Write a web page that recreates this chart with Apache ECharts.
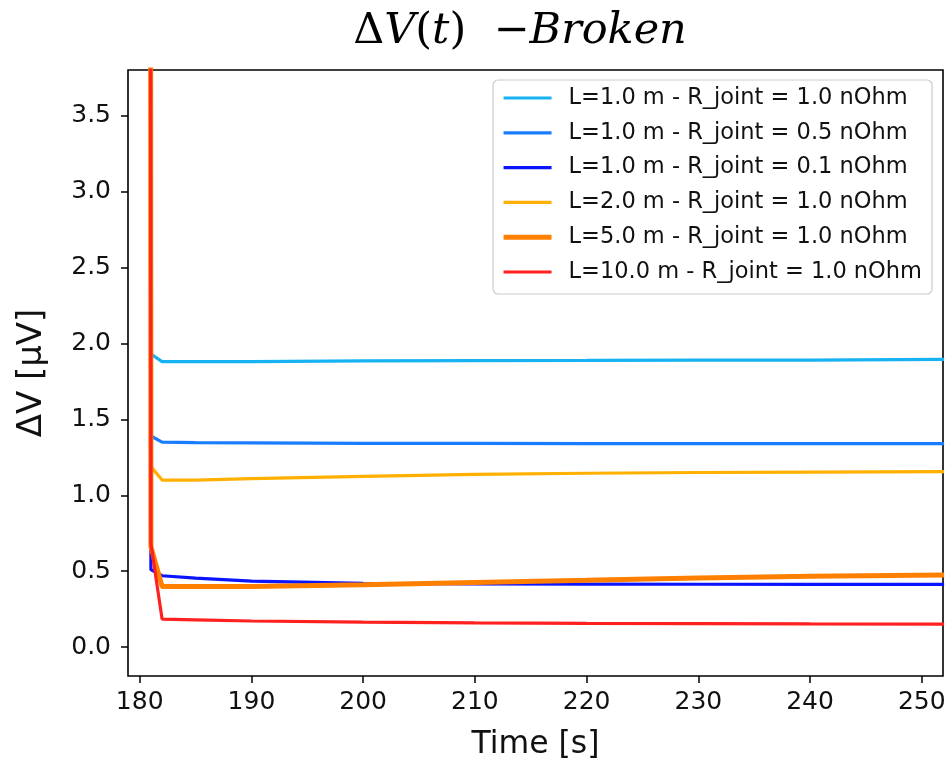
<!DOCTYPE html>
<html>
<head>
<meta charset="utf-8">
<script src="https://cdn.jsdelivr.net/npm/echarts@6/dist/echarts.min.js"></script>
<style>
html,body{margin:0;padding:0;background:#fff;}
#chart{width:947px;height:759px;}
</style>
</head>
<body>
<div id="chart"></div>
<script>
// ---- data ----
const times = [180.6, 181, 182, 185, 190, 200, 210, 220, 230, 240, 252];
const seriesNames = [
  'L=1.0 m - R_joint = 1.0 nOhm',
  'L=1.0 m - R_joint = 0.5 nOhm',
  'L=1.0 m - R_joint = 0.1 nOhm',
  'L=2.0 m - R_joint = 1.0 nOhm',
  'L=5.0 m - R_joint = 1.0 nOhm',
  'L=10.0 m - R_joint = 1.0 nOhm'
];
const v_L1_R10  = [60, 1.93, 1.88, 1.88, 1.88, 1.885, 1.887, 1.888, 1.89, 1.89, 1.895];
const v_L1_R05  = [60, 1.39, 1.35, 1.347, 1.345, 1.342, 1.341, 1.34, 1.34, 1.34, 1.34];
const v_L1_R01  = [60, 0.51, 0.47, 0.455, 0.435, 0.42, 0.417, 0.415, 0.414, 0.413, 0.413];
const v_L2_R10  = [60, 1.19, 1.10, 1.10, 1.11, 1.125, 1.137, 1.145, 1.15, 1.153, 1.155];
const v_L5_R10  = [60, 0.66, 0.40, 0.40, 0.40, 0.41, 0.425, 0.44, 0.456, 0.466, 0.475];
const v_L10_R10 = [60, 0.68, 0.185, 0.18, 0.172, 0.165, 0.16, 0.157, 0.155, 0.153, 0.152];
const xTicks = [180, 190, 200, 210, 220, 230, 240, 250];
const yTicks = [0, 0.5, 1, 1.5, 2, 2.5, 3, 3.5];

// ---- styling ----
const allValues = [v_L1_R10, v_L1_R05, v_L1_R01, v_L2_R10, v_L5_R10, v_L10_R10];
const colors = ['#17b2f2', '#1a7dff', '#0a14ff', '#ffb000', '#ff8000', '#ff2020'];
const widths = [3.2, 3.2, 3.2, 3.2, 5, 3.2];

const series = allValues.map((vals, i) => ({
  name: seriesNames[i],
  type: 'line',
  symbol: 'none',
  clip: true,
  data: vals.map((v, j) => [times[j], v]),
  lineStyle: { color: colors[i], width: widths[i] },
  itemStyle: { color: colors[i] },
  z: 2 + i
}));

const legendData = seriesNames.map((n, i) => ({
  name: n,
  itemStyle: { opacity: 0 },
  lineStyle: { width: widths[i], color: colors[i] }
}));

const chart = echarts.init(document.getElementById('chart'), null, { renderer: 'canvas' });
chart.setOption({
  animation: false,
  backgroundColor: '#fff',
  title: {
    text: '{u|Δ}{i|V}{u|(}{i|t}{u|)  −}{i|Broken}',
    left: 515,
    textAlign: 'center',
    top: 5,
    textStyle: {
      fontWeight: 'normal',
      rich: {
        u: { fontFamily: 'DejaVu Serif', fontWeight: 'normal', fontSize: 43, color: '#000' },
        i: { fontFamily: 'DejaVu Serif', fontWeight: 'normal', fontStyle: 'italic', fontSize: 43, color: '#000' }
      }
    }
  },
  grid: {
    left: 128, right: 4, top: 70, bottom: 83,
    containLabel: false,
    outerBoundsMode: 'none',
    show: true, borderColor: '#000', borderWidth: 1.6, backgroundColor: 'transparent'
  },
  legend: {
    orient: 'vertical',
    right: 15,
    top: 80,
    backgroundColor: '#fff',
    borderColor: '#cccccc',
    borderWidth: 1.2,
    borderRadius: 5,
    padding: [5, 10, 9, 8],
    itemWidth: 48,
    itemHeight: 14,
    itemGap: 8.8,
    itemStyle: { opacity: 0 },
    textStyle: {
      fontFamily: 'DejaVu Sans',
      fontSize: 22.5,
      color: '#111',
      lineHeight: 26,
      padding: [0, 0, 0, 12]
    },
    data: legendData
  },
  xAxis: {
    type: 'value',
    min: 178.95,
    max: 251.9,
    name: 'Time [s]',
    nameLocation: 'middle',
    nameGap: 53,
    nameTextStyle: { fontFamily: 'DejaVu Sans', fontSize: 31.5, color: '#111' },
    axisLine: { show: false, onZero: false },
    splitLine: { show: false },
    axisTick: { show: true, length: 7, lineStyle: { color: '#000', width: 1.5 }, customValues: xTicks },
    axisLabel: {
      fontFamily: 'DejaVu Sans', fontSize: 25, color: '#111', margin: 14,
      customValues: xTicks,
      formatter: v => String(Math.round(v))
    }
  },
  yAxis: {
    type: 'value',
    min: -0.19,
    max: 3.8,
    name: 'ΔV [μV]',
    nameLocation: 'middle',
    nameGap: 79,
    nameRotate: 90,
    nameTextStyle: { fontFamily: 'DejaVu Sans', fontSize: 34, color: '#111' },
    axisLine: { show: false, onZero: false },
    splitLine: { show: false },
    axisTick: { show: true, length: 7, lineStyle: { color: '#000', width: 1.5 }, customValues: yTicks },
    axisLabel: {
      fontFamily: 'DejaVu Sans', fontSize: 25, color: '#111', margin: 17,
      customValues: yTicks,
      formatter: v => v.toFixed(1)
    }
  },
  series: series
});
</script>
</body>
</html>
